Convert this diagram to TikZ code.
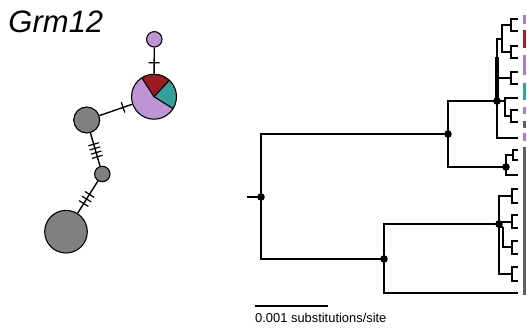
\documentclass[tikz,border=0pt]{standalone}
\usepackage{fontspec}
\setmainfont{Liberation Sans}
\usetikzlibrary{decorations.markings}
\definecolor{pieP}{RGB}{190,148,212}
\definecolor{pieR}{RGB}{155,27,35}
\definecolor{pieT}{RGB}{53,160,154}
\definecolor{grayN}{RGB}{128,128,128}
\definecolor{barP}{RGB}{180,120,202}
\definecolor{barR}{RGB}{160,30,40}
\definecolor{barT}{RGB}{50,165,155}
\definecolor{barG}{RGB}{95,95,95}
\begin{document}
\begin{tikzpicture}[x=1pt,y=-1pt,
  br/.style={line width=2pt, black},
  treedot/.style={circle, fill=black, inner sep=0pt, minimum size=7.6pt},
  hap/.style={circle, draw=black, line width=1.1pt, inner sep=0pt},
  netedge/.style={line width=1.4pt, black},
  tickset/.style={postaction={decorate, decoration={markings, #1}}},
  colbar/.style={line width=3pt},
]
\useasboundingbox (0,0) rectangle (527,330);

% ---------- title ----------
\node[anchor=base west, inner sep=0pt, font=\fontsize{31}{31}\selectfont\itshape] (title) at (8.3,32.3) {Grm12};

% ---------- haplotype network ----------
\node[hap, fill=pieP, minimum size=15.4pt] (h1) at (154.3,39.3) {};
\fill[pieT] (154,96.7) -- ++(-32:22.5pt) arc[start angle=-32, end angle=47, radius=22.5pt] -- cycle;
\fill[pieR] (154,96.7) -- ++(47:22.5pt) arc[start angle=47, end angle=123, radius=22.5pt] -- cycle;
\fill[pieP] (154,96.7) -- ++(123:22.5pt) arc[start angle=123, end angle=328, radius=22.5pt] -- cycle;
\draw[line width=1.1pt] (154,96.7) -- ++(-32:22.5pt) (154,96.7) -- ++(47:22.5pt) (154,96.7) -- ++(123:22.5pt);
\node[hap, minimum size=45pt] (pie) at (154,96.7) {};
\node[hap, fill=grayN, minimum size=26pt] (g1) at (86.7,120) {};
\node[hap, fill=grayN, minimum size=15.4pt] (g2) at (102.3,174) {};
\node[hap, fill=grayN, minimum size=42.6pt] (g3) at (66,231.7) {};

\def\tk{\draw[line width=1.2pt] (0pt,-5.5pt) -- (0pt,5.5pt);}
\draw[netedge, tickset={mark=at position 0.58 with {\tk}}] (h1) -- (pie);
\draw[netedge, tickset={mark=at position 0.28 with {\tk}}] (pie) -- (g1);
\draw[netedge, tickset={mark=at position 0.34 with {\tk}, mark=at position 0.466 with {\tk}, mark=at position 0.593 with {\tk}, mark=at position 0.72 with {\tk}}] (g1) -- (g2);
\draw[netedge, tickset={mark=at position 0.416 with {\tk}, mark=at position 0.559 with {\tk}, mark=at position 0.70 with {\tk}}] (g2) -- (g3);

% ---------- tree coordinates ----------
\coordinate (S) at (247,197);
\coordinate (R) at (261,197);
\coordinate (T) at (448,134);
\coordinate (L) at (384,259);
\coordinate (U) at (497,101);
\coordinate (Uthick) at (497,57);
\coordinate (V) at (506,167);
\coordinate (W) at (499,224);
\coordinate (tL) at (518,293);
% upper clade
\coordinate (A) at (502,39);
\coordinate (c1) at (511,25);
\coordinate (t1) at (518,19);
\coordinate (t2) at (518,31);
\coordinate (c2) at (511,52);
\coordinate (t3) at (518,46);
\coordinate (t4) at (518,58);
\coordinate (c3) at (511,78);
\coordinate (t5) at (518,72);
\coordinate (t6) at (518,84);
\coordinate (B) at (505,101);
\coordinate (t7) at (518,98);
\coordinate (c4) at (511,116);
\coordinate (t8) at (518,110);
\coordinate (t9) at (518,122);
\coordinate (t10) at (518,138);
% small clade
\coordinate (c5) at (513,155);
\coordinate (t11) at (518,150);
\coordinate (t12) at (518,160);
\coordinate (t13) at (518,175);
% lower clade
\coordinate (d1) at (512,196);
\coordinate (t14) at (518,189);
\coordinate (t15) at (518,203);
\coordinate (d2) at (512,222);
\coordinate (t16) at (518,215);
\coordinate (t17) at (518,228);
\coordinate (X) at (503,227);
\coordinate (d3) at (512,247);
\coordinate (t18) at (518,241);
\coordinate (t19) at (518,254);
\coordinate (d4) at (512,274);
\coordinate (t20) at (518,267);
\coordinate (t21) at (518,281);

% ---------- tree branches ----------
\draw[br] (S) -- (R);
\draw[br] (R) |- (T);
\draw[br] (R) |- (L);
\draw[br] (T) |- (U);
\draw[br] (T) |- (V);
\draw[br] (L) |- (W);
\draw[br] (L) |- (tL);
\draw[br] (U) |- (A);
\draw[line width=3.4pt] (U) -- (Uthick);
\draw[br] (A) |- (c1);
\draw[br] (A) |- (c2);
\draw[br] (c1) |- (t1);
\draw[br] (c1) |- (t2);
\draw[br] (c2) |- (t3);
\draw[br] (c2) |- (t4);
\draw[br] (U) |- (c3);
\draw[br] (c3) |- (t5);
\draw[br] (c3) |- (t6);
\draw[br] (U) |- (B);
\draw[br] (B) |- (t7);
\draw[br] (B) |- (c4);
\draw[br] (c4) |- (t8);
\draw[br] (c4) |- (t9);
\draw[br] (U) |- (t10);
\draw[br] (V) |- (c5);
\draw[br] (c5) |- (t11);
\draw[br] (c5) |- (t12);
\draw[br] (V) |- (t13);
\draw[br] (W) |- (d1);
\draw[br] (d1) |- (t14);
\draw[br] (d1) |- (t15);
\draw[br] (W) |- (d2);
\draw[br] (d2) |- (t16);
\draw[br] (d2) |- (t17);
\draw[br] (W) |- (X);
\draw[br] (X) |- (d3);
\draw[br] (d3) |- (t18);
\draw[br] (d3) |- (t19);
\draw[br] (W) |- (d4);
\draw[br] (d4) |- (t20);
\draw[br] (d4) |- (t21);

% dots
\node[treedot] (Rd) at (R) {};
\node[treedot] (Td) at (T) {};
\node[treedot] (Ld) at (L) {};
\node[treedot] (Ud) at (U) {};
\node[treedot] (Vd) at (V) {};
\node[treedot] (Wd) at (W) {};

% ---------- colour bars ----------
\draw[colbar, barP] (524.5,15) -- (524.5,24);
\draw[colbar, barR] (524.5,30) -- (524.5,48);
\draw[colbar, barP] (524.5,55) -- (524.5,75);
\draw[colbar, barT] (524.5,83) -- (524.5,100);
\draw[colbar, barP] (524.5,107) -- (524.5,114);
\draw[colbar, barG] (524.5,121) -- (524.5,128);
\draw[colbar, barP] (524.5,133) -- (524.5,141);
\draw[colbar, barG] (524.5,147) -- (524.5,295);

% ---------- scale bar ----------
\coordinate (sb1) at (255,306);
\coordinate (sb2) at (328,306);
\draw[br] (sb1) -- (sb2);
\node[anchor=base west, inner sep=0pt, font=\fontsize{12.9}{13}\selectfont] (sblabel) at (255,322) {0.001 substitutions/site};
\end{tikzpicture}
\end{document}
